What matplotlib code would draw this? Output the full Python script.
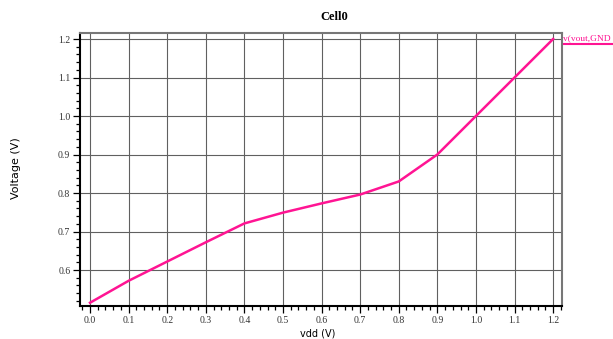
import matplotlib
matplotlib.use('Agg')
import matplotlib.pyplot as plt
from matplotlib.ticker import MultipleLocator

# vdd sweep and output voltage
vdd = [0.0, 0.1, 0.2, 0.3, 0.4, 0.5, 0.6, 0.7, 0.8, 0.9, 1.0, 1.1, 1.2]
vout = [0.515, 0.572, 0.622, 0.672, 0.721, 0.749, 0.773, 0.796, 0.830, 0.900, 1.000, 1.100, 1.200]

pink = '#ff1493'

fig = plt.figure(figsize=(6.13, 3.39), dpi=100)
ax = fig.add_axes([80 / 613, 1 - 306 / 339, (562 - 80) / 613, (306 - 33) / 339])

ax.plot(vdd, vout, color=pink, lw=1.8, zorder=3)

ax.set_xlim(-0.026, 1.223)
ax.set_ylim(0.5065, 1.2156)
ax.xaxis.set_major_locator(MultipleLocator(0.1))
ax.xaxis.set_minor_locator(MultipleLocator(0.02))
ax.yaxis.set_major_locator(MultipleLocator(0.1))
ax.yaxis.set_minor_locator(MultipleLocator(0.02))
ax.xaxis.set_major_formatter(plt.FormatStrFormatter('%.1f'))
ax.yaxis.set_major_formatter(plt.FormatStrFormatter('%.1f'))

ax.grid(True, which='major', color='#606060', lw=0.8)
ax.tick_params(which='major', direction='out', length=5, width=0.9, labelsize=7, pad=2)
ax.tick_params(which='minor', direction='out', length=3, width=0.9)
for lab in ax.get_xticklabels() + ax.get_yticklabels():
    lab.set_family('Liberation Serif')
    lab.set_color('#333333')

for side in ['left', 'bottom']:
    ax.spines[side].set_linewidth(1.5)
for side in ['top', 'right']:
    ax.spines[side].set_color('#777777')
    ax.spines[side].set_linewidth(1.5)

fig.text(334 / 613, 1 - 17 / 339, 'Cell0', ha='center', va='center',
         fontsize=9, fontweight='bold', family='Liberation Serif')
fig.text(16 / 613, 1 - 168 / 339, 'Voltage (V)', rotation=90, ha='center', va='center', fontsize=8)
fig.text(318 / 613, 1 - 333 / 339, 'vdd (V)', ha='center', va='center', fontsize=7)

# legend label at the right edge, underlined
fig.text(563 / 613, 1 - 38 / 339, 'v(vout,GND', color=pink, fontsize=6.8,
         family='Liberation Serif', ha='left', va='center')
fig.add_artist(plt.Line2D([564 / 613, 1.0], [1 - 44 / 339, 1 - 44 / 339],
                          color=pink, lw=1.5, transform=fig.transFigure))

fig.savefig('out.png', dpi=100)
